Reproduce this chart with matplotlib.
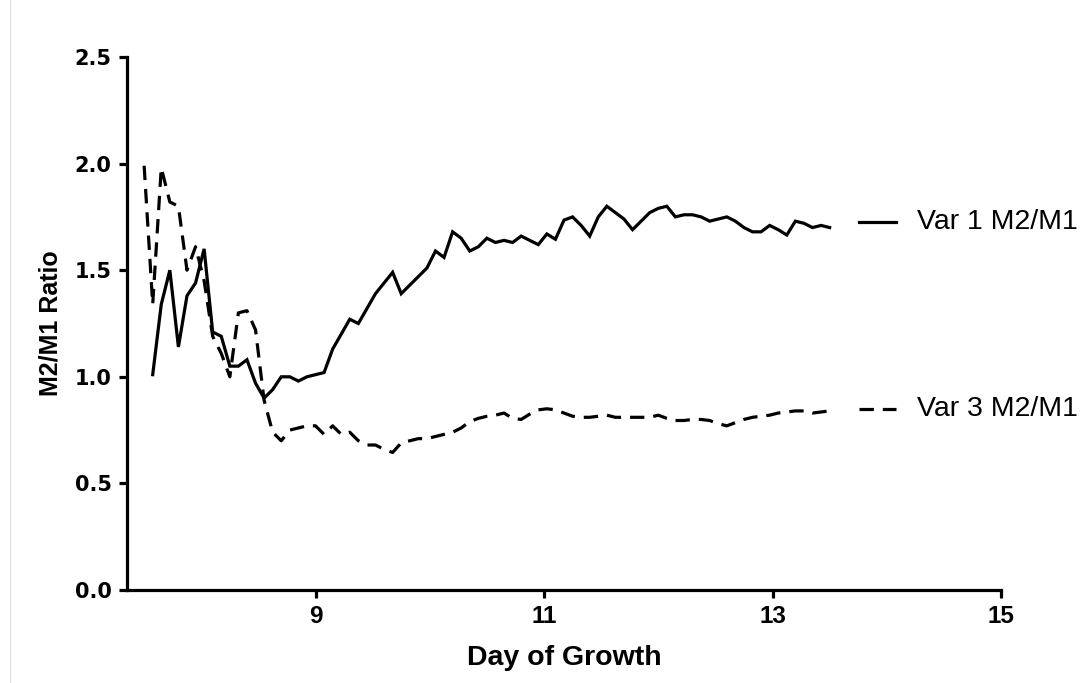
import matplotlib
matplotlib.use("Agg")
import matplotlib.pyplot as plt
from matplotlib.lines import Line2D

plt.rcParams['font.family'] = ['Liberation Sans', 'DejaVu Sans']

# sampling times (days); dashed series starts one sample earlier
day = [7.500, 7.575, 7.650, 7.725, 7.800, 7.875, 7.950, 8.025, 8.100, 8.175,
       8.250, 8.325, 8.400, 8.475, 8.550, 8.625, 8.700, 8.775, 8.850, 8.925,
       9.000, 9.075, 9.150, 9.225, 9.300, 9.375, 9.450, 9.525, 9.600, 9.675,
       9.750, 9.825, 9.900, 9.975, 10.050, 10.125, 10.200, 10.275, 10.350, 10.425,
       10.500, 10.575, 10.650, 10.725, 10.800, 10.875, 10.950, 11.025, 11.100, 11.175,
       11.250, 11.325, 11.400, 11.475, 11.550, 11.625, 11.700, 11.775, 11.850, 11.925,
       12.000, 12.075, 12.150, 12.225, 12.300, 12.375, 12.450, 12.525, 12.600, 12.675,
       12.750, 12.825, 12.900, 12.975, 13.050, 13.125, 13.200, 13.275, 13.350, 13.425,
       13.500]

var1_ratio = [1.01, 1.34, 1.50, 1.14, 1.38, 1.44, 1.60, 1.21, 1.19, 1.05,
              1.05, 1.08, 0.97, 0.90, 0.94, 1.00, 1.00, 0.98, 1.00, 1.01,
              1.02, 1.13, 1.20, 1.27, 1.25, 1.32, 1.39, 1.44, 1.49, 1.39,
              1.43, 1.47, 1.51, 1.59, 1.56, 1.68, 1.65, 1.59, 1.61, 1.65,
              1.63, 1.64, 1.63, 1.66, 1.64, 1.62, 1.67, 1.645, 1.735, 1.75,
              1.71, 1.66, 1.75, 1.80, 1.77, 1.74, 1.69, 1.73, 1.77, 1.79,
              1.80, 1.75, 1.76, 1.76, 1.75, 1.73, 1.74, 1.75, 1.73, 1.70,
              1.68, 1.68, 1.71, 1.69, 1.665, 1.73, 1.72, 1.70, 1.71, 1.70]

var3_ratio = [1.99, 1.34, 1.98, 1.82, 1.80, 1.50, 1.61, 1.45, 1.19, 1.11,
              1.00, 1.30, 1.31, 1.22, 0.89, 0.74, 0.70, 0.75, 0.76, 0.77,
              0.77, 0.73, 0.77, 0.73, 0.74, 0.70, 0.68, 0.68, 0.66, 0.645,
              0.69, 0.70, 0.71, 0.71, 0.72, 0.73, 0.74, 0.76, 0.79, 0.805,
              0.815, 0.82, 0.83, 0.805, 0.80, 0.825, 0.845, 0.85, 0.845, 0.83,
              0.815, 0.81, 0.81, 0.815, 0.82, 0.81, 0.81, 0.81, 0.81, 0.81,
              0.82, 0.805, 0.795, 0.795, 0.80, 0.80, 0.795, 0.78, 0.77, 0.785,
              0.80, 0.81, 0.815, 0.82, 0.83, 0.835, 0.84, 0.84, 0.83, 0.835,
              0.84]

labels = ["Var 1 M2/M1", "Var 3 M2/M1"]
x_ticks = [9, 11, 13, 15]
y_ticks = [0.0, 0.5, 1.0, 1.5, 2.0, 2.5]

W, H = 1092, 683
fig = plt.figure(figsize=(W / 100, H / 100), dpi=100)
ax = fig.add_axes([127 / W, 1 - 590 / H, 874 / W, 533 / H])

dash = (0, (4.5, 2.8))
ax.plot(day[1:], var1_ratio, color="black", lw=2.3, solid_joinstyle="miter")
ax.plot(day, var3_ratio, color="black", lw=2.3, linestyle=dash)

ax.set_xlim(7.35, 15)
ax.set_ylim(0, 2.5)
ax.set_xticks(x_ticks)
ax.set_yticks(y_ticks)
ax.set_yticklabels([f"{v:.1f}" for v in y_ticks])

for side in ["top", "right"]:
    ax.spines[side].set_visible(False)
for side in ["left", "bottom"]:
    ax.spines[side].set_linewidth(2.3)
ax.tick_params(axis="both", width=2.3, length=6, direction="out", pad=5)
for lab in ax.get_yticklabels():
    lab.set_fontweight("bold")
    lab.set_fontfamily("DejaVu Sans")
    lab.set_fontsize(15)
for lab in ax.get_xticklabels():
    lab.set_fontweight("bold")
    lab.set_fontsize(17.5)

ax.set_xlabel("Day of Growth", fontsize=20.5, fontweight="bold", labelpad=12)
ax.set_ylabel("M2/M1 Ratio", fontsize=18, fontweight="bold", labelpad=9)

# legend entries beside the line ends
for ypix, style, text in [(222, "-", labels[0]), (409, dash, labels[1])]:
    fig.add_artist(Line2D([859 / W, 896 / W], [1 - ypix / H, 1 - ypix / H],
                          color="black", lw=2.3, linestyle=style))
    fig.text(917 / W, 1 - ypix / H, text, fontsize=20.5, va="center", ha="left")

# faint frame edge on the left
fig.add_artist(Line2D([10 / W, 10 / W], [0, 1], color="#dcdcdc", lw=0.8))

fig.savefig("out.png", dpi=100)
